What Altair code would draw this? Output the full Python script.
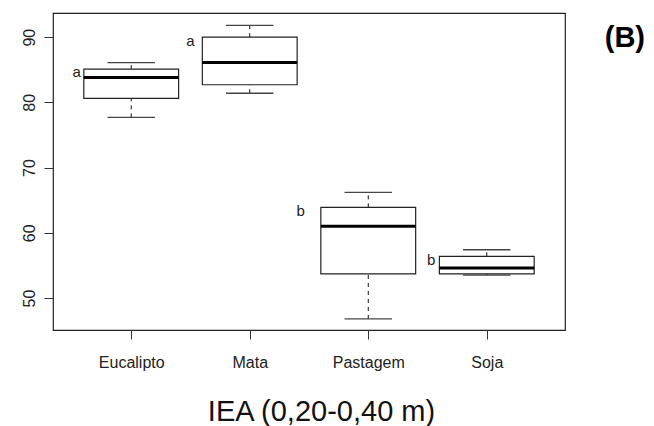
import altair as alt
import pandas as pd

categories = ["Eucalipto", "Mata", "Pastagem", "Soja"]
positions = [1, 2, 3, 4]
lower_whisker = [77.7, 81.4, 46.8, 53.5]
q1 = [80.6, 82.7, 53.7, 53.7]
median = [83.8, 86.1, 61.0, 54.6]
q3 = [85.1, 90.0, 63.9, 56.4]
upper_whisker = [86.1, 91.8, 66.2, 57.4]
letters = ["a", "a", "b", "b"]
letter_x = [0.54, 1.50, 2.43, 3.53]
letter_y = [84.6, 89.4, 63.3, 55.9]
y_ticks = [50, 60, 70, 80, 90]
x_title = "IEA (0,20-0,40 m)"
panel = "(B)"

df = pd.DataFrame({
    "cat": categories, "pos": positions, "lo": lower_whisker, "q1": q1,
    "med": median, "q3": q3, "hi": upper_whisker,
    "letter": letters, "lx": letter_x, "ly": letter_y,
})

FONT = "Liberation Sans"
label_expr = "[" + ",".join("'%s'" % c for c in categories) + "][datum.value - 1]"

xscale = alt.Scale(domain=[0.34, 4.66], nice=False, zero=False)
yscale = alt.Scale(domain=[45.1, 93.7], nice=False, zero=False)
xaxis = alt.Axis(values=positions, labelExpr=label_expr, title=x_title, domain=False,
                 grid=False, tickSize=9, tickColor="#333", labelFont=FONT, labelFontSize=16,
                 labelColor="#222", labelPadding=15, titleFont=FONT, titleFontSize=29,
                 titleFontWeight="normal", titleColor="#111", titleX=268, titleY=90,
                 titleBaseline="alphabetic", titleAnchor="middle", titleAlign="center")
yaxis = alt.Axis(values=y_ticks, title=None, domain=False, grid=False, tickSize=9,
                 tickColor="#333", labelFont=FONT, labelFontSize=16, labelColor="#222",
                 labelAngle=270, labelAlign="center", labelBaseline="bottom", labelPadding=7)

base = alt.Chart(df).transform_calculate(
    left="datum.pos - 0.4", right="datum.pos + 0.4",
    capl="datum.pos - 0.2", capr="datum.pos + 0.2",
)

wu = base.mark_rule(color="#111", strokeDash=[4, 4], strokeWidth=1).encode(
    x=alt.X("pos:Q", scale=xscale, axis=xaxis),
    y=alt.Y("q3:Q", scale=yscale, axis=yaxis), y2="hi:Q")
wl = base.mark_rule(color="#111", strokeDash=[4, 4], strokeWidth=1).encode(
    x=alt.X("pos:Q", scale=xscale, axis=xaxis),
    y=alt.Y("lo:Q", scale=yscale, axis=yaxis), y2="q1:Q")
cu = base.mark_rule(color="#444", strokeWidth=1.3).encode(
    x=alt.X("capl:Q", scale=xscale, axis=xaxis), x2="capr:Q",
    y=alt.Y("hi:Q", scale=yscale, axis=yaxis))
cl = base.mark_rule(color="#444", strokeWidth=1.3).encode(
    x=alt.X("capl:Q", scale=xscale, axis=xaxis), x2="capr:Q",
    y=alt.Y("lo:Q", scale=yscale, axis=yaxis))
box = base.mark_rect(fill="white", stroke="#222", strokeWidth=1.2).encode(
    x=alt.X("left:Q", scale=xscale, axis=xaxis), x2="right:Q",
    y=alt.Y("q1:Q", scale=yscale, axis=yaxis), y2="q3:Q")
med = base.mark_rule(color="black", strokeWidth=3).encode(
    x=alt.X("left:Q", scale=xscale, axis=xaxis), x2="right:Q",
    y=alt.Y("med:Q", scale=yscale, axis=yaxis))
txt = base.mark_text(font=FONT, fontSize=15, color="#222", align="center",
                     baseline="middle").encode(
    x=alt.X("lx:Q", scale=xscale, axis=xaxis),
    y=alt.Y("ly:Q", scale=yscale, axis=yaxis), text="letter:N")

chart = alt.layer(wu, wl, cu, cl, box, med, txt).properties(
    width=512, height=317,
    padding={"left": 45, "top": 5, "right": 81, "bottom": 96},
    autosize=alt.AutoSizeParams(type="none"),
    title=alt.TitleParams(text=panel, anchor="end", frame="group", orient="top",
                          offset=0, dx=80, dy=63, baseline="alphabetic",
                          font=FONT, fontSize=29, fontWeight="bold", color="black"),
).configure(background="white").configure_view(stroke="#222", strokeWidth=1.2)

chart.save("out.html", embed_options={"renderer": "svg", "actions": False})
